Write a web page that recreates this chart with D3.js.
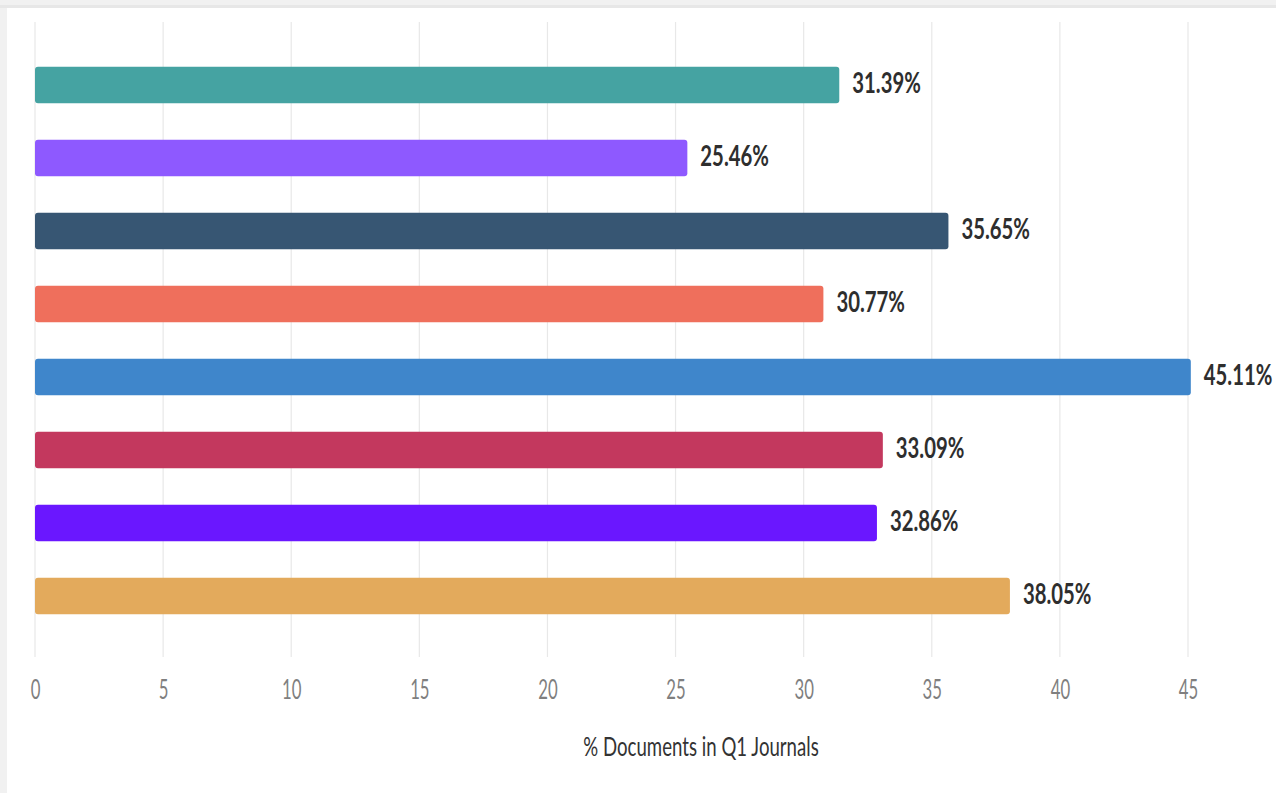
<!DOCTYPE html>
<html>
<head>
<meta charset="utf-8">
<script src="https://cdn.jsdelivr.net/npm/d3@7"></script>
<style>
  html, body { margin: 0; padding: 0; background: #f1f1f1; }
  svg { display: block; }
</style>
</head>
<body>
<svg id="chart" width="1276" height="793"></svg>
<script>
// Share of documents published in Q1 journals, one bar per group
const categories = ["Group A", "Group B", "Group C", "Group D", "Group E", "Group F", "Group G", "Group H"];
const values = [31.39, 25.46, 35.65, 30.77, 45.11, 33.09, 32.86, 38.05];
const colors = ["#45a3a2", "#8e59ff", "#375673", "#ef6f5c", "#3f86cb", "#c3385e", "#6a17ff", "#e3aa5c"];
const tickValues = [0, 5, 10, 15, 20, 25, 30, 35, 40, 45];
const axisTitle = "% Documents in Q1 Journals";

const W = 1276, H = 793;
const svg = d3.select("#chart");

// panel
svg.append("rect").attr("x", 0).attr("y", 0).attr("width", W).attr("height", H).attr("fill", "#f1f1f1");
svg.append("rect").attr("x", 0).attr("y", 5).attr("width", W).attr("height", 3).attr("fill", "#e7e7e7");
svg.append("rect").attr("x", 7).attr("y", 8).attr("width", W - 7).attr("height", H - 8).attr("fill", "#ffffff");

const x = d3.scaleLinear().domain([0, 45]).range([35, 1188]);
const y = d3.scaleBand().domain(categories).range([48.5, 632.5]).paddingInner(0.5).paddingOuter(0.25);

const fontFamily = "Lato, 'Open Sans', sans-serif";

// vertical gridlines
svg.append("g").selectAll("line").data(tickValues).join("line")
  .attr("x1", d => x(d)).attr("x2", d => x(d))
  .attr("y1", 22).attr("y2", 657)
  .attr("stroke", "#e8e8e8").attr("stroke-width", 1.2);

// x axis tick labels
const axis = d3.axisBottom(x).tickValues(tickValues).tickSize(0).tickPadding(0).tickFormat(d3.format("d"));
const gAxis = svg.append("g").attr("transform", "translate(0,699)").call(axis);
gAxis.select(".domain").remove();
gAxis.selectAll(".tick text")
  .attr("y", 0).attr("dy", 0)
  .attr("fill", "#7f7f7f")
  .attr("font-family", fontFamily)
  .attr("font-size", 27)
  .attr("text-anchor", "middle")
  .attr("transform", "scale(0.62,1)");

// bars
svg.append("g").selectAll("rect").data(categories).join("rect")
  .attr("x", x(0))
  .attr("y", d => y(d))
  .attr("width", (d, i) => x(values[i]) - x(0))
  .attr("height", y.bandwidth())
  .attr("rx", 3).attr("ry", 3)
  .attr("fill", (d, i) => colors[i]);

// value labels
svg.append("g").selectAll("text").data(categories).join("text")
  .attr("transform", (d, i) => `translate(${x(values[i]) + 13},${y(d) + y.bandwidth() / 2 + 8}) scale(0.7,1)`)
  .attr("font-family", fontFamily)
  .attr("font-weight", 700)
  .attr("font-size", 29)
  .attr("fill", "#2e2e2e")
  .text((d, i) => values[i].toFixed(2) + "%");

// axis title
svg.append("text")
  .attr("transform", "translate(701,756) scale(0.69,1)")
  .attr("text-anchor", "middle")
  .attr("font-family", fontFamily)
  .attr("font-size", 27)
  .attr("fill", "#333333")
  .text(axisTitle);
</script>
</body>
</html>
